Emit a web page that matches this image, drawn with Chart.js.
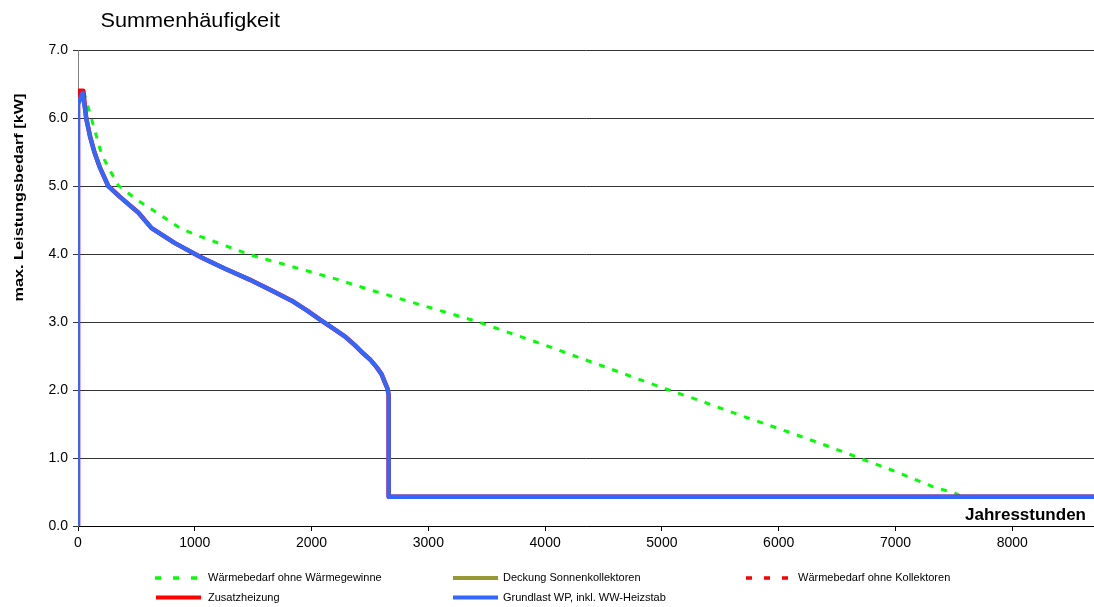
<!DOCTYPE html>
<html>
<head>
<meta charset="utf-8">
<script src="https://cdn.jsdelivr.net/npm/chart.js@4"></script>
<style>
  html, body { margin: 0; padding: 0; background: #fff; overflow: hidden; }
  #wrap { width: 1094px; height: 607px; }
</style>
</head>
<body>
<div id="wrap"><canvas id="c" width="1094" height="607"></canvas></div>
<script>
// ---- data ----
const chartTitle = "Summenhäufigkeit";
const xAxisTitle = "Jahresstunden";
const yAxisTitle = "max. Leistungsbedarf [kW]";

const xTickValues = [0, 1000, 2000, 3000, 4000, 5000, 6000, 7000, 8000];
const yTickValues = [0, 1, 2, 3, 4, 5, 6, 7];

const seriesLabels = [
  "Wärmebedarf ohne Wärmegewinne",
  "Deckung Sonnenkollektoren",
  "Wärmebedarf ohne Kollektoren",
  "Zusatzheizung",
  "Grundlast WP, inkl. WW-Heizstab"
];

// Wärmebedarf ohne Wärmegewinne
const hoursOhneGewinne = [50, 117, 203, 274, 345, 502, 701, 873, 1044, 1471, 2213, 2526, 3411, 4000, 4300, 4465, 4993, 5364, 5734, 6105, 6476, 6690, 7003, 7331, 7502, 7560];
const kwOhneGewinne    = [6.38, 5.98, 5.46, 5.23, 5.01, 4.80, 4.58, 4.38, 4.26, 3.99, 3.63, 3.46, 3.01, 2.66, 2.47, 2.37, 2.04, 1.82, 1.59, 1.37, 1.14, 1.00, 0.80, 0.57, 0.49, 0.44];

// Deckung Sonnenkollektoren (no visible values)
const hoursDeckung = [];
const kwDeckung = [];

// Wärmebedarf ohne Kollektoren
const hoursOhneKollektoren = [0, 0, 45, 70, 103, 140, 188, 259, 359, 516, 630, 830, 1044, 1250, 1473, 1650, 1843, 1960, 2085, 2190, 2284, 2370, 2441, 2500, 2555, 2600, 2626, 2650, 2660, 2660, 8760];
const kwOhneKollektoren    = [0, 6.40, 6.40, 6.00, 5.73, 5.50, 5.27, 5.00, 4.84, 4.61, 4.38, 4.16, 3.96, 3.79, 3.62, 3.47, 3.30, 3.17, 3.02, 2.90, 2.79, 2.66, 2.54, 2.45, 2.34, 2.23, 2.12, 2.02, 1.93, 0.43, 0.43];

// Zusatzheizung
const hoursZusatz = [0, 0, 45, 70, 103, 140, 188, 259, 359, 516, 630, 830, 1044, 1250, 1473, 1650, 1843, 1960, 2085, 2190, 2284, 2370, 2441, 2500, 2555, 2600, 2626, 2650, 2660, 2660, 8760];
const kwZusatz    = [0, 6.40, 6.40, 6.00, 5.73, 5.50, 5.27, 5.00, 4.84, 4.61, 4.38, 4.16, 3.96, 3.79, 3.62, 3.47, 3.30, 3.17, 3.02, 2.90, 2.79, 2.66, 2.54, 2.45, 2.34, 2.23, 2.12, 2.02, 1.93, 0.43, 0.43];

// Grundlast WP, inkl. WW-Heizstab
const hoursGrundlast = [0, 0, 40, 70, 103, 140, 188, 259, 359, 516, 630, 830, 1044, 1250, 1473, 1650, 1843, 1960, 2085, 2190, 2284, 2370, 2441, 2500, 2555, 2600, 2626, 2650, 2660, 2660, 8760];
const kwGrundlast    = [0, 6.20, 6.37, 6.00, 5.73, 5.50, 5.27, 5.00, 4.84, 4.61, 4.38, 4.16, 3.96, 3.79, 3.62, 3.47, 3.30, 3.17, 3.02, 2.90, 2.79, 2.66, 2.54, 2.45, 2.34, 2.23, 2.12, 2.02, 1.93, 0.43, 0.43];

// ---- build chart ----
function pts(xs, ys) { return xs.map((x, i) => ({ x: x, y: ys[i] })); }

const datasets = [
  { label: seriesLabels[0], data: pts(hoursOhneGewinne, kwOhneGewinne), borderColor: '#00FF00', borderWidth: 3, borderDash: [6, 8], order: 4 },
  { label: seriesLabels[1], data: pts(hoursDeckung, kwDeckung), borderColor: '#999933', borderWidth: 4, order: 3 },
  { label: seriesLabels[2], data: pts(hoursOhneKollektoren, kwOhneKollektoren), borderColor: '#FF0000', borderWidth: 3, borderDash: [6, 8], order: 2 },
  { label: seriesLabels[3], data: pts(hoursZusatz, kwZusatz), borderColor: '#FF0000', borderWidth: 4.5, order: 1 },
  { label: seriesLabels[4], data: pts(hoursGrundlast, kwGrundlast), borderColor: '#3366FF', borderWidth: 4.3, order: 0 }
];
datasets.forEach(d => { d.pointRadius = 0; d.pointHoverRadius = 0; d.tension = 0; d.fill = false; d.borderJoinStyle = 'round'; d.backgroundColor = d.borderColor; });

function fitText(ctx, text, x, y, font, width, align, rot) {
  ctx.save();
  ctx.font = font;
  const m = ctx.measureText(text).width;
  ctx.translate(x, y);
  if (rot) ctx.rotate(rot);
  ctx.scale(width / m, 1);
  ctx.textAlign = align;
  ctx.textBaseline = 'alphabetic';
  ctx.fillStyle = '#000';
  ctx.fillText(text, 0, 0);
  ctx.restore();
}

const legendSlots = [
  { col: 0, row: 0 }, { col: 1, row: 0 }, { col: 2, row: 0 },
  { col: 0, row: 1 }, { col: 1, row: 1 }
];
const legendCols = [{ mark: 155, text: 208 }, { mark: 452, text: 503 }, { mark: 746, text: 798 }];
const legendRows = [578, 597.5];

const decor = {
  id: 'decor',
  afterDraw(chart) {
    const ctx = chart.ctx;
    fitText(ctx, chartTitle, 100.5, 26.5, '20px "Liberation Sans", Arial, sans-serif', 179.5, 'left');
    fitText(ctx, xAxisTitle, 1086, 519.5, 'bold 17px "Liberation Sans", Arial, sans-serif', 121, 'right');
    fitText(ctx, yAxisTitle, 22.5, 197.5, 'bold 13px "Liberation Sans", Arial, sans-serif', 208, 'center', -Math.PI / 2);
    chart.data.datasets.forEach((ds, i) => {
      const slot = legendSlots[i];
      const c = legendCols[slot.col];
      const y = legendRows[slot.row];
      ctx.save();
      ctx.strokeStyle = ds.borderColor;
      ctx.lineCap = 'butt';
      ctx.beginPath();
      if (ds.borderDash) {
        ctx.lineWidth = 3.5;
        ctx.setLineDash([6, 12]);
        ctx.moveTo(c.mark, y);
        ctx.lineTo(c.mark + 42, y);
      } else {
        ctx.lineWidth = 4;
        ctx.moveTo(c.mark + 1, y);
        ctx.lineTo(c.mark + 46, y);
      }
      ctx.stroke();
      ctx.restore();
      ctx.save();
      ctx.font = '11px "Liberation Sans", Arial, sans-serif';
      ctx.fillStyle = '#000';
      ctx.textBaseline = 'middle';
      ctx.textAlign = 'left';
      ctx.fillText(ds.label, c.text, y);
      ctx.restore();
    });
  }
};

new Chart(document.getElementById('c'), {
  type: 'line',
  data: { datasets: datasets },
  plugins: [decor],
  options: {
    responsive: false,
    animation: false,
    events: [],
    layout: { padding: { top: 50, left: 0, right: 0, bottom: 0 } },
    plugins: { legend: { display: false }, title: { display: false }, tooltip: { enabled: false } },
    scales: {
      x: {
        type: 'linear',
        min: 0,
        max: 8700,
        afterBuildTicks: (axis) => { axis.ticks = xTickValues.map(v => ({ value: v })); },
        afterFit: (s) => { s.height = 81; },
        ticks: {
          callback: (v) => String(v),
          color: '#000',
          font: { family: '"Liberation Sans", Arial, sans-serif', size: 14 },
          padding: 4,
          maxRotation: 0,
          autoSkip: false
        },
        grid: { drawOnChartArea: false, drawTicks: true, tickLength: 5, tickColor: '#000', lineWidth: 1 },
        border: { display: true, color: '#000', width: 1 }
      },
      y: {
        type: 'linear',
        min: 0,
        max: 7,
        afterBuildTicks: (axis) => { axis.ticks = yTickValues.map(v => ({ value: v })); },
        afterFit: (s) => { s.width = 78; },
        ticks: {
          callback: (v) => Number(v).toFixed(1),
          color: '#000',
          font: { family: '"Liberation Sans", Arial, sans-serif', size: 14 },
          padding: 5
        },
        grid: { drawOnChartArea: true, color: '#333', lineWidth: 1, drawTicks: true, tickLength: 5, tickColor: '#333' },
        border: { display: true, color: '#808080', width: 1 }
      }
    }
  }
});
</script>
</body>
</html>
